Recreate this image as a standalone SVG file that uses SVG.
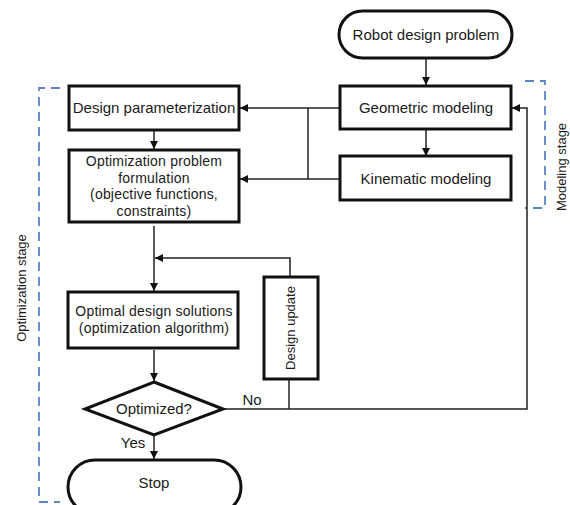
<svg xmlns="http://www.w3.org/2000/svg" width="570" height="505" viewBox="0 0 570 505">
<style>
.box{fill:#fff;stroke:#111;stroke-width:3}
.ln{fill:none;stroke:#222;stroke-width:1.5}
.dash{fill:none;stroke:#5b86c6;stroke-width:1.8;stroke-dasharray:9,6}
text{font-family:"Liberation Sans",Arial,sans-serif;font-size:15px;fill:#1a1a1a;text-anchor:middle}
.sm{font-size:13px}
.ml{font-size:14px;letter-spacing:0.2px}
</style>
<defs>
<marker id="ah" viewBox="0 0 10 10" refX="10" refY="5" markerWidth="8" markerHeight="8" markerUnits="userSpaceOnUse" orient="auto">
<path d="M0,0 L10,5 L0,10 z" fill="#111"/>
</marker>
</defs>
<rect width="570" height="505" fill="#fff"/>
<g id="stages">
<path class="dash" d="M60,88 H39 V502 H60"/>
<path class="dash" d="M525,81 H545 V208 H525"/>
<text class="sm" transform="translate(26,288) rotate(-90)">Optimization stage</text>
<text class="sm" transform="translate(566,167) rotate(-90)">Modeling stage</text>
</g>
<g id="connectors">
<path class="ln" d="M426,58 V85" marker-end="url(#ah)"/>
<path class="ln" d="M426,129 V156" marker-end="url(#ah)"/>
<path class="ln" d="M340,108 H240" marker-end="url(#ah)"/>
<path class="ln" d="M340,179 H240" marker-end="url(#ah)"/>
<path class="ln" d="M308,108 V179"/>
<path class="ln" d="M154,130 V149" marker-end="url(#ah)"/>
<path class="ln" d="M154,226 V291" marker-end="url(#ah)"/>
<path class="ln" d="M290,277 V258 H155" marker-end="url(#ah)"/>
<path class="ln" d="M154,350 V381" marker-end="url(#ah)"/>
<path class="ln" d="M154,435 V459" marker-end="url(#ah)"/>
<path class="ln" d="M223,409 H527 V108 H512" marker-end="url(#ah)"/>
<path class="ln" d="M289,379 V409"/>
<text x="252" y="405">No</text>
<text x="133" y="448">Yes</text>
</g>
<g id="robot">
<rect class="box" x="339" y="11" width="173" height="47" rx="23.5"/>
<text x="426" y="40">Robot design problem</text>
</g>
<g id="geometric">
<rect class="box" x="340" y="86" width="171" height="43"/>
<text x="426" y="113">Geometric modeling</text>
</g>
<g id="kinematic">
<rect class="box" x="340" y="156" width="171" height="44"/>
<text x="426" y="184">Kinematic modeling</text>
</g>
<g id="param">
<rect class="box" x="69" y="86" width="170" height="44"/>
<text x="154" y="113">Design parameterization</text>
</g>
<g id="formulation">
<rect class="box" x="69" y="150" width="170" height="72"/>
<text class="ml" x="154" y="166">Optimization problem</text>
<text class="ml" x="154" y="182.5">formulation</text>
<text class="ml" x="154" y="199">(objective functions,</text>
<text class="ml" x="154" y="215.5">constraints)</text>
</g>
<g id="solutions">
<rect class="box" x="68" y="292" width="170" height="56"/>
<text class="ml" x="154" y="316">Optimal design solutions</text>
<text class="ml" x="154" y="332.5">(optimization algorithm)</text>
</g>
<g id="update">
<rect class="box" x="264" y="277" width="54" height="102"/>
<text class="sm" transform="translate(295,328) rotate(-90)">Design update</text>
</g>
<g id="optimized">
<path class="box" d="M154,382 L223,409 L154,435 L85,409 Z"/>
<text x="154" y="414">Optimized?</text>
</g>
<g id="stop">
<rect class="box" x="68" y="460" width="173" height="54" rx="27"/>
<text x="154" y="488">Stop</text>
</g>
</svg>
